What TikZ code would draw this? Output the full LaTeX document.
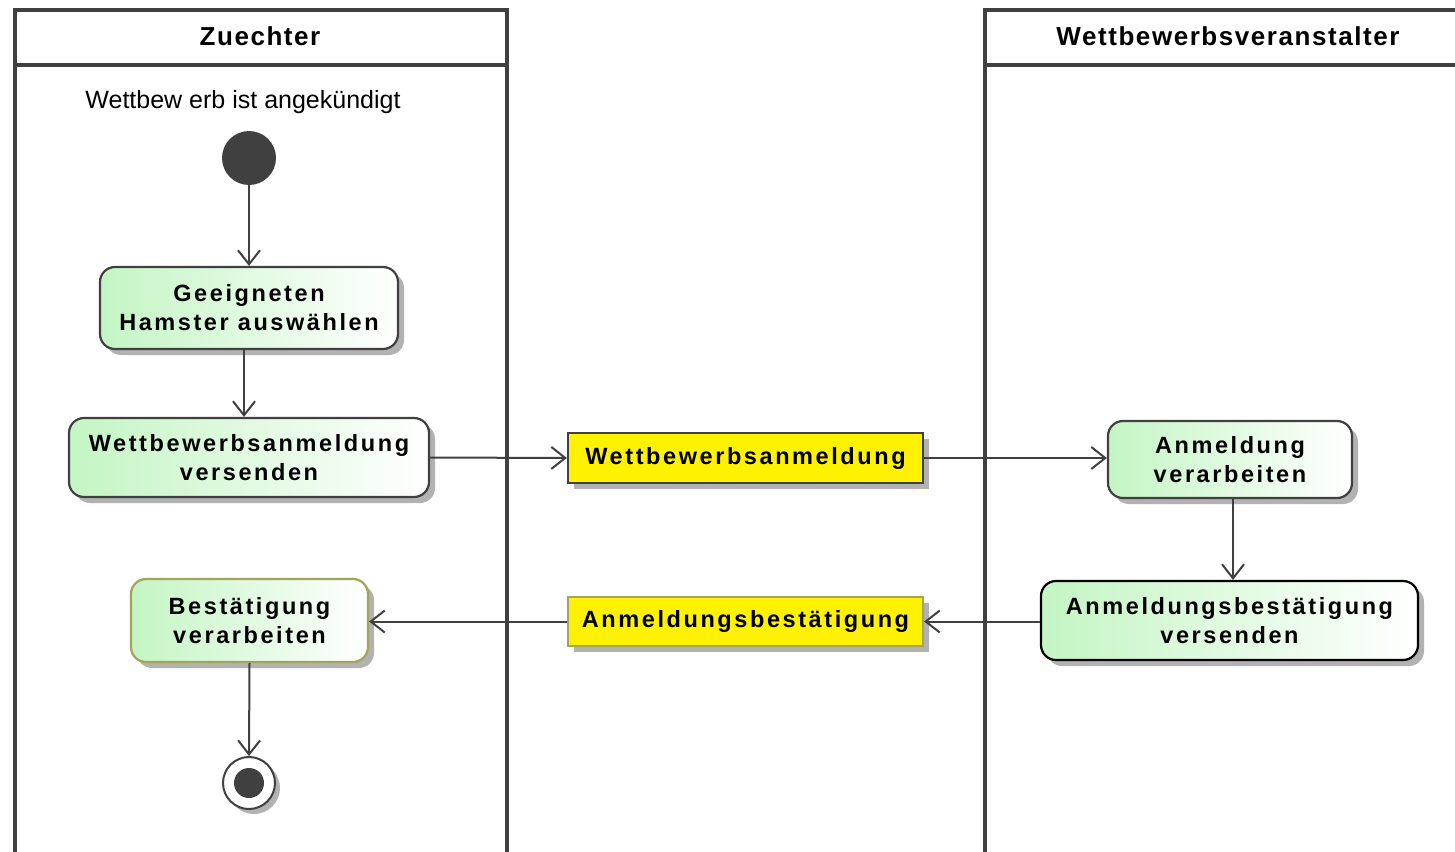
\documentclass[tikz,border=0pt]{standalone}
\usepackage{fontspec}
\setmainfont{Liberation Sans}
\newfontfamily\boxfont[LetterSpace=11]{Liberation Sans}
\newfontfamily\headfont[LetterSpace=6]{Liberation Sans}
\usetikzlibrary{arrows.meta,shadows}
\definecolor{ln}{HTML}{404040}
\definecolor{olive}{HTML}{A3A35A}
\definecolor{lgreen}{HTML}{C4F5C4}
\tikzset{
  flow/.style={draw=ln, line width=2pt, -{Straight Barb[length=14pt,width=22pt,line width=2pt]}},
  lane/.style={draw=ln, line width=3.5pt},
  act/.style={draw=ln, line width=2.2pt, rounded corners=15pt, left color=lgreen, right color=white,
    align=center, font=\boxfont\bfseries\fontsize{23.5}{29}\selectfont, inner sep=0pt,
    drop shadow={shadow xshift=6pt, shadow yshift=-6pt, fill=black!30, opacity=1}},
  obj/.style={draw=ln, line width=2.2pt, fill=yellow, align=center,
    font=\boxfont\bfseries\fontsize{23.5}{29}\selectfont, inner sep=0pt,
    drop shadow={shadow xshift=6pt, shadow yshift=-6pt, fill=black!30, opacity=1}},
  headtext/.style={font=\headfont\bfseries\fontsize{26}{30}\selectfont},
}
\begin{document}
\begin{tikzpicture}[x=1pt,y=-1pt]
\useasboundingbox (0,0) rectangle (1455,851);
\clip (0,0) rectangle (1455,851);
% lanes
\draw[lane] (15,860) -- (15,10) -- (507,10) -- (507,860);
\draw[lane] (15,65) -- (507,65);
\draw[lane] (985,860) -- (985,10) -- (1470,10);
\draw[lane] (985,65) -- (1470,65);
\node[headtext] (h1) at (260,36) {Zuechter};
\node[headtext] (h2) at (1228,36) {Wettbewerbsveranstalter};
% start
\node[font=\fontsize{25}{30}\selectfont] (lbl) at (243,102) {Wettbew erb ist angekündigt};
\node[circle, fill=ln, minimum size=54pt, inner sep=0pt] (start) at (249,158) {};
% activities
\node[act, minimum width=298pt, minimum height=82pt] (a1) at (249,308) {Geeigneten\\Hamster auswählen};
\node[act, minimum width=360pt, minimum height=79pt] (a2) at (249,457.5) {Wettbewerbsanmeldung\\versenden};
\node[obj, minimum width=355pt, minimum height=50pt] (o1) at (745.5,458) {Wettbewerbsanmeldung};
\node[act, minimum width=244pt, minimum height=77pt] (a3) at (1230,459.5) {Anmeldung\\verarbeiten};
\node[act, draw=black, minimum width=377pt, minimum height=79pt] (a4) at (1229.5,620.5) {Anmeldungsbestätigung\\versenden};
\node[obj, draw=olive, minimum width=355pt, minimum height=49pt] (o2) at (745.5,621.5) {Anmeldungsbestätigung};
\node[act, draw=olive, minimum width=237pt, minimum height=83pt] (a5) at (249.5,620.5) {Bestätigung\\verarbeiten};
% end
\node[circle, draw=ln, line width=2pt, fill=white, minimum size=52pt, inner sep=0pt,
  drop shadow={shadow xshift=5pt, shadow yshift=-5pt, fill=black!30, opacity=1}] (end) at (249,783) {};
\node[circle, fill=ln, minimum size=30pt, inner sep=0pt] (endin) at (end.center) {};
% flows
\draw[flow] (start) -- (a1);
\draw[flow] ([xshift=-5pt]a1.south) -- ([xshift=-5pt]a2.north);
\draw[flow] (a2.east) -- (o1.west);
\draw[flow] (o1.east) -- (a3.west |- o1.east);
\draw[flow] ([xshift=3pt]a3.south) -- ([xshift=3pt]a3.south |- a4.north);
\draw[flow] (a4.west |- o2.east) -- (o2.east);
\draw[flow] (o2.west) -- (a5.east |- o2.west);
\draw[flow] (a5.south) -- (end.north);
\end{tikzpicture}
\end{document}
